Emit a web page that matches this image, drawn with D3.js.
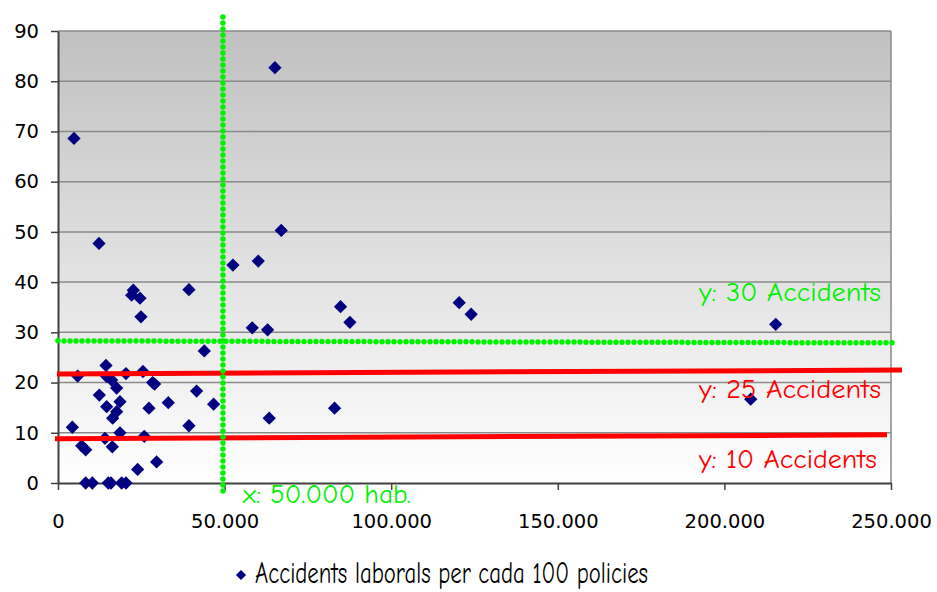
<!DOCTYPE html>
<html>
<head>
<meta charset="utf-8">
<script src="https://cdn.jsdelivr.net/npm/d3@7"></script>
<style>
  body { margin: 0; background: #fff; }
  svg { display: block; }
</style>
</head>
<body>
<div id="chart"></div>
<script>
// population (hab.) of each town
const habitants = [
  4800, 65100, 12300, 67000, 52500, 60100, 22600, 22100, 24600, 24900,
  39300, 43900, 58300, 62900, 84800, 87600, 120400, 124000, 215400, 207900,
  63400, 83000, 46700, 41600, 39300, 33100, 29600, 23900, 27300, 28400,
  29000, 25500, 20400, 5900, 14400, 14600, 16100, 17600, 12400, 14600,
  18600, 17600, 16400, 4300, 18600, 14100, 25900, 7100, 8300, 16300,
  8300, 10300, 15100, 15900, 19100, 20400
];
// work accidents per 100 policies
const accidents = [
  68.6, 82.7, 47.7, 50.3, 43.4, 44.2, 38.4, 37.4, 36.8, 33.1,
  38.5, 26.3, 30.9, 30.5, 35.1, 32.0, 35.9, 33.6, 31.6, 16.7,
  12.9, 14.9, 15.7, 18.3, 11.4, 16.0, 4.2, 2.7, 14.9, 20.0,
  19.7, 22.2, 21.8, 21.3, 23.4, 21.2, 20.5, 18.9, 17.5, 15.2,
  16.2, 14.2, 12.9, 11.1, 10.0, 8.9, 9.3, 7.4, 6.6, 7.2,
  0, 0, 0, 0, 0, 0
];

const xTicks = [0, 50000, 100000, 150000, 200000, 250000];
const yTicks = [0, 10, 20, 30, 40, 50, 60, 70, 80, 90];

// hand drawn guide lines, in data units: [x1, y1, x2, y2]
const greenVertical = [49500, 92.8, 49500, -1.8];
const greenHorizontal = [0, 28.3, 251200, 27.9];
const redUpper = [-300, 21.7, 253300, 22.5];
const redLower = [-900, 8.8, 248800, 9.6];

const seriesName = "Accidents laborals per cada 100 policies";

const width = 937, height = 592;
const margin = { top: 31, right: 46, bottom: 109, left: 58 };
const plotW = width - margin.left - margin.right;
const plotH = height - margin.top - margin.bottom;

const svg = d3.select("#chart").append("svg")
  .attr("width", width)
  .attr("height", height);

const defs = svg.append("defs");
const grad = defs.append("linearGradient")
  .attr("id", "bg")
  .attr("x1", 0).attr("y1", 0).attr("x2", 0).attr("y2", 1);
grad.append("stop").attr("offset", "0%").attr("stop-color", "#c0c0c0");
grad.append("stop").attr("offset", "100%").attr("stop-color", "#ffffff");

const x = d3.scaleLinear().domain([0, 250000]).range([0, plotW]);
const y = d3.scaleLinear().domain([0, 90]).range([plotH, 0]);

const g = svg.append("g")
  .attr("transform", `translate(${margin.left},${margin.top})`);

// plot area
g.append("rect")
  .attr("width", plotW)
  .attr("height", plotH)
  .attr("fill", "url(#bg)");

// gridlines
g.selectAll(".grid")
  .data(yTicks.filter(d => d > 0))
  .enter().append("line")
  .attr("x1", 0).attr("x2", plotW)
  .attr("y1", d => y(d)).attr("y2", d => y(d))
  .attr("stroke", "#8a8a8a")
  .attr("stroke-width", 1.5);

// right border
g.append("line")
  .attr("x1", plotW).attr("x2", plotW)
  .attr("y1", 0).attr("y2", plotH)
  .attr("stroke", "#8a8a8a")
  .attr("stroke-width", 1.5);

const tickFont = "'DejaVu Sans', Verdana, sans-serif";
const fmt = d => d3.format(",")(d).replace(/,/g, ".");

const xAxis = g.append("g")
  .attr("transform", `translate(0,${plotH})`)
  .call(d3.axisBottom(x).tickValues(xTicks).tickFormat(fmt).tickSizeInner(7).tickSizeOuter(0).tickPadding(24));
const yAxis = g.append("g")
  .call(d3.axisLeft(y).tickValues(yTicks).tickSizeInner(7).tickSizeOuter(0).tickPadding(12));

[xAxis, yAxis].forEach(a => {
  a.select(".domain").attr("stroke", "#404040").attr("stroke-width", 2);
  a.selectAll(".tick line").attr("stroke", "#404040").attr("stroke-width", 1.5);
  a.selectAll(".tick text")
    .attr("fill", "#000")
    .style("font-family", tickFont)
    .style("font-size", "19.5px");
});

// guide lines
function guide(seg, color, w, dotted) {
  const l = g.append("line")
    .attr("x1", x(seg[0])).attr("y1", y(seg[1]))
    .attr("x2", x(seg[2])).attr("y2", y(seg[3]))
    .attr("stroke", color)
    .attr("stroke-width", w);
  if (dotted) l.attr("stroke-dasharray", "0 6").attr("stroke-linecap", "round");
  return l;
}

// points
const pts = habitants.map((h, i) => ({ h, a: accidents[i] }));
const diamond = d3.symbol().type(d3.symbolSquare).size(88);

g.selectAll(".pt")
  .data(pts)
  .enter().append("path")
  .attr("class", "pt")
  .attr("d", diamond)
  .attr("transform", d => `translate(${x(d.h)},${y(d.a)}) rotate(45)`)
  .attr("fill", "#000080");

guide(greenHorizontal, "#00f000", 5.5, true);
guide(redUpper, "#ff0000", 5, false);
guide(redLower, "#ff0000", 5, false);
guide(greenVertical, "#00f000", 5.5, true);

// labels
const comic = "'Comic Sans MS', 'Comic Neue', 'Open Sans', sans-serif";
function label(txt, lx, ly, color, len) {
  svg.append("text")
    .attr("x", lx).attr("y", ly)
    .attr("fill", color)
    .attr("textLength", len)
    .attr("lengthAdjust", "spacingAndGlyphs")
    .style("font-family", comic)
    .style("font-size", "27px")
    .text(txt);
}
label("y: 30 Accidents", 699, 301, "#00f000", 182);
label("y: 25 Accidents", 699, 398, "#ff0000", 182);
label("y: 10 Accidents", 699, 468, "#ff0000", 178);
label("x: 50.000 hab.", 243, 503, "#00f000", 168);

// legend
svg.append("path")
  .attr("d", d3.symbol().type(d3.symbolSquare).size(52))
  .attr("transform", "translate(241,575) rotate(45)")
  .attr("fill", "#000080");
svg.append("text")
  .attr("x", 255).attr("y", 583)
  .attr("textLength", 393)
  .attr("lengthAdjust", "spacingAndGlyphs")
  .style("font-family", comic)
  .style("font-size", "31px")
  .attr("fill", "#000")
  .text(seriesName);
</script>
</body>
</html>
